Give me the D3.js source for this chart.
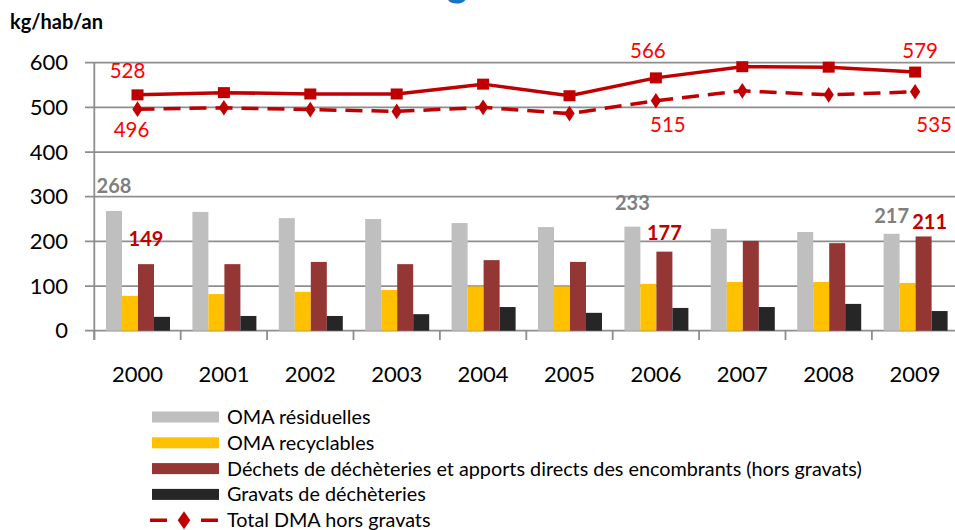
<!DOCTYPE html>
<html>
<head>
<meta charset="utf-8">
<script src="https://cdn.jsdelivr.net/npm/d3@7/dist/d3.min.js"></script>
<style>
  body { margin: 0; background: #fff; }
  text { font-family: Lato, "Open Sans", sans-serif; }
</style>
</head>
<body>
<svg class="chart"></svg>
<script>
// data (kg/hab/an)
var years = [2000, 2001, 2002, 2003, 2004, 2005, 2006, 2007, 2008, 2009];
var omaResiduelles = [268, 266, 252, 250, 241, 232, 233, 228, 221, 217];
var omaRecyclables = [78, 82, 87, 91, 99, 99, 105, 109, 109, 107];
var decheteries = [149, 149, 154, 149, 158, 154, 177, 201, 196, 211];
var gravats = [31, 33, 33, 37, 53, 40, 51, 53, 60, 44];
var totalHorsGravats = [496, 499, 495, 491, 500, 486, 515, 537, 528, 535];
var totalAvecGravats = [528, 533, 530, 530, 552, 526, 566, 591, 590, 579];
var yTicks = [0, 100, 200, 300, 400, 500, 600];

var seriesNames = ["OMA résiduelles", "OMA recyclables",
  "Déchets de déchèteries et apports directs des encombrants (hors gravats)",
  "Gravats de déchèteries"];
var seriesColors = ["#bfbfbf", "#ffc000", "#943634", "#262626"];
var barData = [omaResiduelles, omaRecyclables, decheteries, gravats];

function show() {
    'use strict';

    var width = 955, height = 530;
    var svg = d3.select(".chart").attr("width", width).attr("height", height);

    var x0 = d3.scaleBand().domain(years).range([94.3, 958.3]);
    var x1 = d3.scaleBand().domain(d3.range(4)).range([11.7, 75.7]);
    var y = d3.scaleLinear().domain([0, 600]).range([330.7, 62.7]);
    var gridColor = "#8e8e8e";

    // bit of the cut-off title
    svg.append("text")
        .attr("x", 457).attr("y", -4)
        .attr("text-anchor", "middle")
        .attr("font-size", 40).attr("font-weight", "bold")
        .attr("fill", "#1576c8")
        .text("g");

    svg.append("text")
        .attr("x", 10).attr("y", 29)
        .attr("font-size", 20).attr("font-weight", "bold")
        .attr("fill", "#000")
        .text("kg/hab/an");

    // grid
    svg.append("g").selectAll("line").data(yTicks).enter()
        .append("line")
        .attr("x1", 85).attr("x2", 958)
        .attr("y1", function(d) { return y(d); })
        .attr("y2", function(d) { return y(d); })
        .attr("stroke", gridColor).attr("stroke-width", 1.8);

    var yAxis = svg.append("g")
        .attr("transform", "translate(68,0)")
        .call(d3.axisLeft(y).tickValues(yTicks).tickSize(0).tickPadding(0));
    yAxis.select(".domain").remove();
    yAxis.selectAll("text").attr("font-size", 22).attr("fill", "#000")
        .attr("font-family", "Lato, sans-serif");

    svg.append("line")
        .attr("x1", 94.3).attr("x2", 94.3)
        .attr("y1", y(600)).attr("y2", 340)
        .attr("stroke", gridColor).attr("stroke-width", 1.8);

    var catEdges = years.map(function(d) { return x0(d); }).concat([x0.range()[1]]);
    svg.append("g").selectAll("line").data(catEdges).enter()
        .append("line")
        .attr("x1", function(d) { return d; }).attr("x2", function(d) { return d; })
        .attr("y1", y(0)).attr("y2", 340)
        .attr("stroke", gridColor).attr("stroke-width", 1.8);

    var xAxis = svg.append("g")
        .attr("transform", "translate(0,364)")
        .call(d3.axisBottom(x0).tickSize(0).tickPadding(0));
    xAxis.select(".domain").remove();
    xAxis.selectAll("text").attr("font-size", 22).attr("fill", "#000")
        .attr("font-family", "Lato, sans-serif").attr("dy", "0.8em");

    // bars
    var groups = svg.append("g").selectAll("g").data(years).enter()
        .append("g")
        .attr("transform", function(d) { return "translate(" + x0(d) + ",0)"; });
    groups.selectAll("rect")
        .data(function(d, i) { return barData.map(function(s, k) { return {k: k, v: s[i]}; }); })
        .enter().append("rect")
        .attr("x", function(d) { return x1(d.k); })
        .attr("width", x1.bandwidth())
        .attr("y", function(d) { return y(d.v); })
        .attr("height", function(d) { return y(0) - y(d.v); })
        .attr("fill", function(d) { return seriesColors[d.k]; });

    // lines
    var lineColor = "#c00000";
    var cx = function(d, i) { return x0(years[i]) + x0.bandwidth() / 2; };
    var line = d3.line().x(cx).y(function(d) { return y(d); });

    svg.append("path").datum(totalAvecGravats)
        .attr("d", line).attr("fill", "none")
        .attr("stroke", lineColor).attr("stroke-width", 3.5);
    svg.append("g").selectAll("rect").data(totalAvecGravats).enter()
        .append("rect")
        .attr("x", function(d, i) { return cx(d, i) - 6; })
        .attr("y", function(d) { return y(d) - 5.5; })
        .attr("width", 12).attr("height", 11)
        .attr("fill", lineColor);

    svg.append("path").datum(totalHorsGravats)
        .attr("d", line).attr("fill", "none")
        .attr("stroke", lineColor).attr("stroke-width", 3.5)
        .attr("stroke-dasharray", "17,9");
    var diamond = d3.symbol().type(d3.symbolDiamond).size(70);
    svg.append("g").selectAll("path").data(totalHorsGravats).enter()
        .append("path")
        .attr("d", diamond)
        .attr("transform", function(d, i) { return "translate(" + cx(d, i) + "," + y(d) + ") scale(1.15,1)"; })
        .attr("fill", lineColor);

    // data labels: [year index, dx, dy]
    var solidLabels = [[0, -10, -17], [6, -8, -20], [9, 5, -14]];
    var dashedLabels = [[0, -6, 28], [6, 12, 31], [9, 19, 40]];
    function lineLabel(arr, vals) {
        svg.append("g").selectAll("text").data(arr).enter()
            .append("text")
            .attr("x", function(d) { return cx(null, d[0]) + d[1]; })
            .attr("y", function(d) { return y(vals[d[0]]) + d[2]; })
            .attr("text-anchor", "middle")
            .attr("font-size", 20.5).attr("fill", "#ff0000")
            .text(function(d) { return vals[d[0]]; });
    }
    lineLabel(solidLabels, totalAvecGravats);
    lineLabel(dashedLabels, totalHorsGravats);

    // bar labels: [series, year index, dx, dy, colour]
    var barLabels = [[0, 0, 0, -18, "#7f7f7f"], [2, 0, 0, -18, "#c00000"],
                     [0, 6, 0, -17, "#7f7f7f"], [2, 6, 0, -12, "#c00000"],
                     [0, 9, 0, -11, "#7f7f7f"], [2, 9, 6, -7, "#c00000"]];
    svg.append("g").selectAll("text").data(barLabels).enter()
        .append("text")
        .attr("x", function(d) { return x0(years[d[1]]) + x1(d[0]) + x1.bandwidth() / 2 + d[2]; })
        .attr("y", function(d) { return y(barData[d[0]][d[1]]) + d[3]; })
        .attr("text-anchor", "middle")
        .attr("font-size", 20).attr("font-weight", "bold")
        .attr("fill", function(d) { return d[4]; })
        .text(function(d) { return barData[d[0]][d[1]]; });

    // legend
    var legend = svg.append("g");
    var rowY = function(i) { return 417 + i * 25.8; };
    seriesNames.forEach(function(name, i) {
        legend.append("rect")
            .attr("x", 152).attr("y", rowY(i) - 5.5)
            .attr("width", 67).attr("height", 11)
            .attr("fill", seriesColors[i]);
        legend.append("text")
            .attr("x", 227).attr("y", rowY(i))
            .attr("dy", "0.35em")
            .attr("font-size", 19.8).attr("fill", "#000")
            .text(name);
    });
    var ly = rowY(4);
    legend.append("line")
        .attr("x1", 150).attr("x2", 218).attr("y1", ly).attr("y2", ly)
        .attr("stroke", lineColor).attr("stroke-width", 3.5)
        .attr("stroke-dasharray", "17,34");
    legend.append("path")
        .attr("d", d3.symbol().type(d3.symbolDiamond).size(95))
        .attr("transform", "translate(184," + ly + ") scale(1.2,1)")
        .attr("fill", lineColor);
    legend.append("text")
        .attr("x", 227).attr("y", ly).attr("dy", "0.35em")
        .attr("font-size", 19.8).attr("fill", "#000")
        .text("Total DMA hors gravats");
}
show();
</script>
</body>
</html>
